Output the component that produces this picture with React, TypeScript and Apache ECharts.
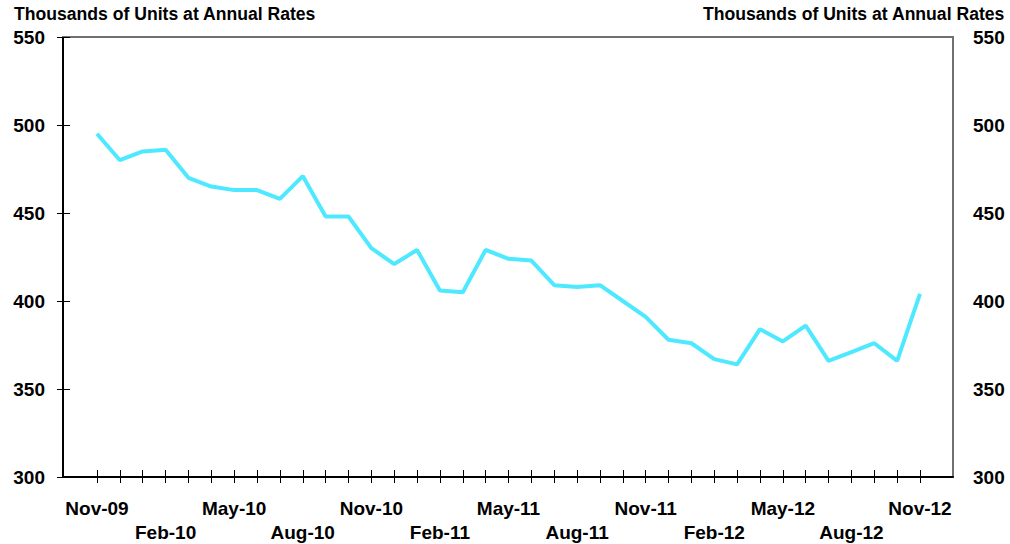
import React, { useEffect, useRef } from "react";
import * as echarts from "echarts";

const categories = [
  "Nov-09", "Dec-09", "Jan-10", "Feb-10", "Mar-10", "Apr-10", "May-10", "Jun-10", "Jul-10", "Aug-10",
  "Sep-10", "Oct-10", "Nov-10", "Dec-10", "Jan-11", "Feb-11", "Mar-11", "Apr-11", "May-11", "Jun-11",
  "Jul-11", "Aug-11", "Sep-11", "Oct-11", "Nov-11", "Dec-11", "Jan-12", "Feb-12", "Mar-12", "Apr-12",
  "May-12", "Jun-12", "Jul-12", "Aug-12", "Sep-12", "Oct-12", "Nov-12",
];

const salesValues = [
  495, 480, 485, 486, 470, 465, 463, 463, 458, 471,
  448, 448, 430, 421, 429, 406, 405, 429, 424, 423,
  409, 408, 409, 400, 391, 378, 376, 367, 364, 384,
  377, 386, 366, 371, 376, 366, 404,
];

const yMin = 300;
const yMax = 550;
const yStep = 50;
const unitTitle = "Thousands of Units at Annual Rates";

const FONT = "'Liberation Sans', Arial, sans-serif";

export default function App() {
  const ref = useRef<HTMLDivElement>(null);

  useEffect(() => {
    document.body.style.margin = "0";
    if (!ref.current) return;
    const chart = echarts.init(ref.current, null, { renderer: "svg" });

    const labelStyle = {
      fontFamily: FONT,
      fontWeight: 700,
      fontSize: 19,
      color: "#000",
    };

    const option = {
      animation: false,
      backgroundColor: "#fff",
      grid: [
        { left: 97, right: 90, top: 37, bottom: 67 },
        { left: 63, right: 57, top: 37, bottom: 67 },
      ],
      graphic: [
        {
          type: "text",
          left: 14,
          top: 5,
          style: { text: unitTitle, font: `bold 17.6px ${FONT}`, fill: "#000" },
        },
        {
          type: "text",
          right: 5,
          top: 5,
          style: { text: unitTitle, font: `bold 17.6px ${FONT}`, fill: "#000" },
        },
      ],
      xAxis: [
        {
          type: "category",
          gridIndex: 0,
          position: "bottom",
          data: categories,
          boundaryGap: false,
          axisLine: { show: false },
          axisTick: { show: true, inside: false, length: 6, interval: 0, lineStyle: { color: "#000", width: 1 } },
          axisLabel: {
            ...labelStyle,
            interval: 0,
            margin: 19,
            lineHeight: 24,
            formatter: (v: string, i: number) => {
              if (i % 3 !== 0) return "";
              return (i / 3) % 2 === 1 ? "\n" + v : v;
            },
          },
          splitLine: { show: false },
        },
        {
          type: "category",
          gridIndex: 0,
          position: "bottom",
          data: categories,
          boundaryGap: false,
          axisLine: { show: false },
          axisTick: { show: true, inside: true, length: 7, interval: 0, lineStyle: { color: "#000", width: 1 } },
          axisLabel: { show: false },
          splitLine: { show: false },
        },
        {
          type: "value",
          gridIndex: 1,
          position: "bottom",
          min: 0,
          max: 1,
          axisLine: { show: true, lineStyle: { color: "#000", width: 2 } },
          axisTick: { show: false },
          axisLabel: { show: false },
          splitLine: { show: false },
        },
        {
          type: "value",
          gridIndex: 1,
          position: "top",
          min: 0,
          max: 1,
          axisLine: { show: true, lineStyle: { color: "#707070", width: 2 } },
          axisTick: { show: false },
          axisLabel: { show: false },
          splitLine: { show: false },
        },
      ],
      yAxis: [
        {
          type: "value",
          gridIndex: 0,
          min: yMin,
          max: yMax,
          interval: yStep,
          show: false,
        },
        {
          type: "value",
          gridIndex: 1,
          position: "left",
          min: yMin,
          max: yMax,
          interval: yStep,
          axisLine: { show: true, lineStyle: { color: "#000", width: 2 } },
          axisTick: { show: true, inside: false, length: 6, lineStyle: { color: "#000", width: 1 } },
          axisLabel: { ...labelStyle, margin: 18 },
          splitLine: { show: false },
        },
        {
          type: "value",
          gridIndex: 1,
          position: "left",
          min: yMin,
          max: yMax,
          interval: yStep,
          axisLine: { show: false },
          axisTick: { show: true, inside: true, length: 7, lineStyle: { color: "#000", width: 1 } },
          axisLabel: { show: false },
          splitLine: { show: false },
        },
        {
          type: "value",
          gridIndex: 1,
          position: "right",
          min: yMin,
          max: yMax,
          interval: yStep,
          axisLine: { show: true, lineStyle: { color: "#707070", width: 2 } },
          axisTick: { show: false },
          axisLabel: { ...labelStyle, margin: 20 },
          splitLine: { show: false },
        },
      ],
      series: [
        {
          type: "line",
          xAxisIndex: 0,
          yAxisIndex: 0,
          data: salesValues,
          symbol: "none",
          lineStyle: { color: "#4FE9FF", width: 4 },
          z: 3,
        },
      ],
    };

    chart.setOption(option as any);
    return () => chart.dispose();
  }, []);

  return (
    <div
      ref={ref}
      style={{ position: "fixed", left: 0, top: 0, width: 1010, height: 544 }}
    />
  );
}
